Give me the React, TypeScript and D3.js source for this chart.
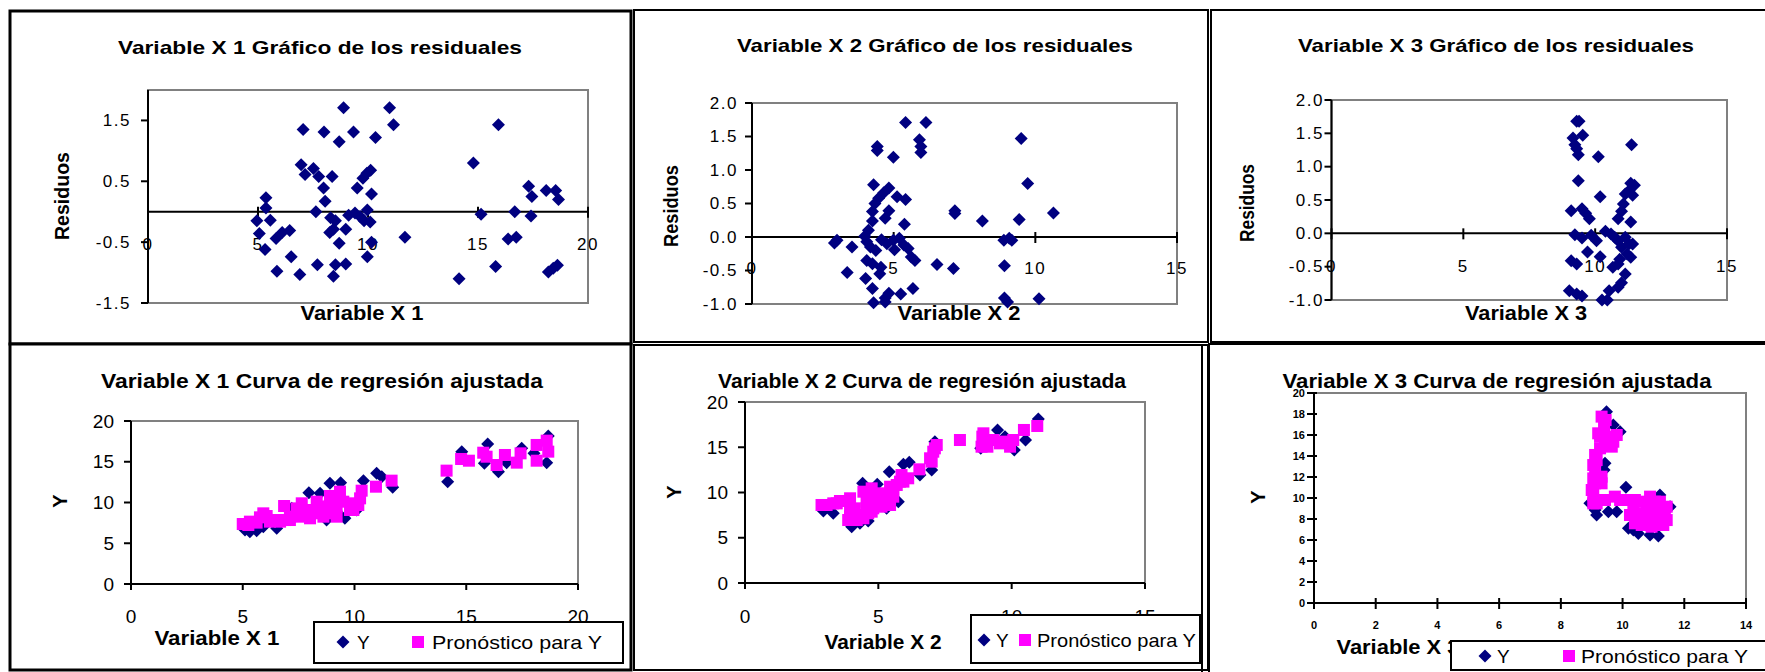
// Externals
import * as d3 from 'd3'
import React, { useRef, useEffect } from 'react'

const FONT = "'Liberation Sans', Arial, Helvetica, sans-serif"
const NAVY = '#000080'
const MAGENTA = '#ff00ff'

// Residual plots: [x value, residual]
const res1 = [
  [8.89, 1.71], [10.98, 1.71], [11.16, 1.43], [7.05, 1.35], [8.0, 1.31], [9.34, 1.31], [8.69, 1.15],
  [10.34, 1.22], [15.93, 1.43], [14.79, 0.8], [6.96, 0.77], [7.14, 0.61], [7.52, 0.71], [7.76, 0.58],
  [8.37, 0.58], [7.98, 0.39], [8.05, 0.17], [7.63, 0.0], [5.36, 0.23], [5.36, 0.06], [4.95, -0.15],
  [5.56, -0.14], [5.06, -0.36], [5.32, -0.62], [5.82, -0.44], [6.1, -0.34], [6.44, -0.31], [5.86, -0.98],
  [6.51, -0.74], [6.9, -1.03], [7.7, -0.87], [8.43, -1.06], [8.52, -0.87], [8.99, -0.86], [8.69, -0.52],
  [8.3, -0.1], [8.52, -0.15], [8.43, -0.29], [8.26, -0.34], [8.99, -0.29], [9.12, -0.06], [9.41, -0.02],
  [9.64, -0.08], [9.82, -0.15], [9.97, 0.03], [10.1, -0.17], [9.51, 0.39], [9.77, 0.55], [9.95, 0.63],
  [10.12, 0.68], [10.16, 0.29], [9.97, -0.74], [10.16, -0.5], [11.68, -0.42], [14.14, -1.1], [15.14, -0.04],
  [15.8, -0.9], [16.37, -0.45], [16.74, -0.42], [16.67, 0.0], [17.3, 0.42], [17.45, 0.25], [17.41, -0.07],
  [18.1, 0.35], [18.53, 0.35], [18.66, 0.2], [18.2, -0.99], [18.42, -0.93], [18.61, -0.88],
]
const res2 = [
  [5.42, 1.71], [6.14, 1.71], [9.5, 1.47], [4.42, 1.35], [4.42, 1.29], [4.99, 1.19], [5.91, 1.45],
  [5.96, 1.35], [5.96, 1.26], [9.73, 0.8], [4.29, 0.78], [4.83, 0.73], [4.65, 0.66], [4.47, 0.58],
  [4.34, 0.5], [4.25, 0.38], [4.83, 0.39], [4.7, 0.28], [5.12, 0.6], [5.42, 0.56], [7.16, 0.39],
  [7.16, 0.35], [8.13, 0.24], [9.43, 0.26], [10.64, 0.36], [5.38, 0.19], [4.25, 0.24], [3.0, -0.05],
  [2.91, -0.09], [3.53, -0.15], [3.36, -0.53], [3.98, 0.01], [4.05, -0.07], [4.11, 0.1], [4.18, -0.15],
  [4.37, -0.2], [4.57, -0.04], [4.76, -0.1], [4.99, -0.05], [5.2, -0.02], [5.36, -0.12], [5.51, -0.17],
  [4.05, -0.35], [4.25, -0.4], [4.55, -0.45], [4.51, -0.55], [4.01, -0.62], [4.25, -0.77], [4.29, -0.98],
  [4.7, -0.97], [4.83, -0.84], [5.25, -0.85], [5.68, -0.77], [5.62, -0.3], [5.75, -0.35], [6.53, -0.41],
  [7.11, -0.47], [8.91, -0.43], [8.89, -0.05], [9.08, -0.02], [9.17, -0.05], [8.91, -0.91], [9.02, -0.97],
  [10.13, -0.92], [5.03, -0.19], [4.7, -0.91],
]
const res3 = [
  [9.3, 1.68], [9.39, 1.68], [9.53, 1.47], [9.16, 1.43], [9.23, 1.33], [9.3, 1.27], [9.36, 1.18],
  [10.12, 1.15], [11.38, 1.33], [9.36, 0.79], [10.19, 0.55], [11.35, 0.75], [11.49, 0.72], [11.28, 0.64],
  [11.14, 0.59], [11.42, 0.57], [11.07, 0.44], [11.0, 0.33], [10.87, 0.22], [11.35, 0.17], [9.09, 0.34],
  [9.5, 0.37], [9.64, 0.3], [9.78, 0.22], [9.23, -0.02], [9.5, -0.07], [9.85, -0.03], [10.05, -0.11],
  [9.71, -0.28], [10.19, -0.35], [10.39, 0.03], [10.6, -0.01], [10.74, -0.06], [10.87, -0.11], [11.14, -0.06],
  [11.28, -0.16], [11.42, -0.16], [11.0, -0.21], [11.21, -0.31], [10.93, -0.39], [11.35, -0.36], [10.67, -0.51],
  [10.87, -0.46], [11.14, -0.61], [11.0, -0.74], [10.87, -0.81], [10.53, -0.86], [10.26, -1.0], [10.46, -1.0],
  [9.09, -0.41], [9.3, -0.46], [9.02, -0.86], [9.3, -0.91], [9.5, -0.94],
]

// Fitted-curve plots: observed Y (navy) and Pronóstico para Y (magenta)
const fit1Y = [
  [5.32, 6.42], [5.1, 6.63], [5.62, 6.54], [6.52, 6.83], [7.96, 11.21], [7.19, 9.28], [8.75, 7.85],
  [8.9, 12.35], [9.38, 12.43], [9.57, 8.06], [10.4, 12.68], [10.99, 13.58], [11.22, 13.17], [11.71, 11.86],
  [8.46, 11.12], [10.1, 9.08], [5.92, 7.03], [9.35, 8.47], [14.17, 12.56], [14.8, 16.24], [15.96, 17.18],
  [15.81, 14.81], [16.44, 13.78], [16.81, 14.89], [17.48, 16.65], [18.6, 14.89], [18.03, 16.03], [18.67, 18.16],
]
const fit1P = [
  [5.0, 7.36], [5.32, 7.65], [5.77, 8.18], [6.07, 8.34], [5.92, 8.67], [6.52, 7.85], [6.89, 7.85],
  [6.85, 9.57], [7.11, 8.26], [7.64, 9.9], [7.71, 8.47], [8.31, 10.1], [8.34, 8.67], [8.9, 10.8],
  [8.9, 8.67], [9.2, 9.49], [9.35, 11.33], [9.87, 9.9], [10.17, 9.69], [9.95, 9.08], [10.32, 11.45],
  [10.96, 11.94], [11.66, 12.68], [5.25, 7.24], [5.62, 7.53], [6.22, 7.65], [6.67, 7.65], [7.11, 7.85],
  [7.41, 9.28], [8.01, 9.08], [8.01, 8.06], [8.61, 8.26], [9.2, 8.26], [9.5, 10.1], [9.8, 9.08],
  [10.25, 10.51], [7.49, 8.26], [8.38, 9.49], [8.83, 9.49], [9.13, 10.51],
  [14.12, 13.91], [14.77, 15.34], [15.12, 15.13], [15.76, 16.11],
  [15.91, 15.62], [16.36, 14.6], [16.73, 15.83], [17.26, 14.89], [17.43, 16.03], [18.15, 17.06],
  [18.15, 15.13], [18.6, 17.59], [18.67, 16.24],
]
const fit2Y = [
  [3.31, 7.7], [2.94, 7.96], [4.0, 6.22], [4.31, 6.59], [4.62, 6.85], [4.41, 11.01], [4.96, 10.9],
  [5.41, 12.3], [5.94, 13.11], [6.16, 13.33], [6.56, 11.93], [7.0, 12.49], [7.12, 15.62], [5.75, 8.99],
  [5.31, 8.25], [4.69, 7.88], [9.47, 16.91], [9.75, 16.17], [10.1, 14.7], [10.52, 15.8], [11.0, 18.12],
  [8.84, 14.88],
]
const fit2P = [
  [2.87, 8.62], [3.31, 8.8], [3.56, 9.06], [3.94, 9.36], [3.94, 7.33], [4.31, 7.51], [4.62, 7.7],
  [4.12, 8.25], [4.44, 10.09], [4.75, 10.46], [5.06, 9.91], [5.44, 10.64], [5.56, 9.54], [5.31, 8.8],
  [4.87, 8.62], [4.56, 8.99], [5.87, 11.93], [5.94, 11.2], [6.54, 12.56], [6.94, 13.78], [7.12, 14.88],
  [3.06, 8.62], [3.44, 8.8], [3.69, 9.06], [3.87, 6.96], [4.19, 6.96], [4.44, 7.15], [4.75, 7.88],
  [3.94, 8.07], [4.69, 9.54], [5.0, 9.17], [5.25, 9.72], [5.56, 10.28], [5.69, 10.83], [5.12, 8.43],
  [4.81, 8.25], [4.56, 8.25], [5.44, 8.62], [5.81, 11.2], [6.12, 11.57], [7.0, 13.41], [7.06, 14.51],
  [7.19, 15.25],
  [8.06, 15.8], [8.9, 16.17], [9.09, 15.06], [9.31, 15.8], [9.75, 15.62], [10.06, 15.8], [10.46, 16.91],
  [10.96, 17.35], [8.87, 15.06], [9.56, 15.43], [9.94, 15.06], [8.94, 16.54],
]
const fit3Y = [
  [9.48, 18.22], [9.43, 13.3], [9.4, 12.67], [10.11, 11.02], [9.16, 8.38], [9.54, 8.7], [9.81, 8.7],
  [10.35, 6.95], [10.51, 6.63], [11.16, 6.38], [10.89, 6.48], [9.7, 16.95], [9.92, 16.32], [8.94, 9.49],
  [11.54, 9.17], [11.21, 10.29], [9.11, 8.86], [10.19, 7.11],
]
const fit3P = [
  [9.45, 17.43], [9.4, 16.79], [9.27, 15.84], [9.54, 15.84], [9.81, 16.0], [9.43, 15.21], [9.65, 14.89],
  [9.16, 13.62], [9.11, 12.6], [9.32, 12.03], [9.11, 11.4], [9.05, 10.29], [9.16, 9.81], [9.75, 10.13],
  [10.19, 9.81], [10.56, 9.65], [10.89, 10.13], [10.67, 8.54], [10.24, 8.38], [10.4, 7.59], [11.0, 8.86],
  [11.32, 8.86], [11.43, 7.9], [11.1, 7.43], [10.78, 7.59], [11.21, 9.65], [11.37, 8.38], [9.16, 9.49],
  [9.32, 17.75], [9.21, 16.16], [9.7, 15.36], [9.27, 14.73], [9.11, 14.1], [9.05, 13.14], [9.05, 11.87],
  [9.32, 11.4], [9.0, 10.76], [9.05, 9.49], [9.43, 9.81], [9.92, 9.81], [10.4, 9.81], [10.35, 9.17],
  [10.78, 9.17], [11.05, 9.65], [11.43, 9.17], [10.46, 8.38], [10.89, 8.22], [11.16, 8.06], [10.62, 7.43],
  [11.32, 7.43], [10.94, 7.27],
]

// Axis ticks
const resTicks1 = [-1.5, -0.5, 0.5, 1.5]
const resTicks23 = [-1, -0.5, 0, 0.5, 1, 1.5, 2]
const yTicksBy5 = [0, 5, 10, 15, 20]
const yTicksBy2 = [0, 2, 4, 6, 8, 10, 12, 14, 16, 18, 20]
const xTicks20 = [0, 5, 10, 15, 20]
const xTicks15 = [0, 5, 10, 15]
const xTicks14 = [0, 2, 4, 6, 8, 10, 12, 14]

const resTitle = (n) => `Variable X ${n} Gráfico de los residuales`
const fitTitle = (n) => `Variable X ${n} Curva de regresión ajustada`
const LEGEND_Y = 'Y'
const LEGEND_P = 'Pronóstico para Y'

const oneDec = (v) => v.toFixed(1)
const plain = (v) => String(v)

const panels: any[] = [
  {
    frame: [10, 11, 631, 344], frameW: 3,
    title: resTitle(1), titleX: 320, titleY: 47, titleW: 404, titleSize: 19,
    plot: [148, 90, 588, 303], xDomain: [0, 20], yDomain: [-1.5, 2],
    xTicks: xTicks20, yTicks: resTicks1, yFmt: oneDec, xAxisAt: 0, xTickMode: 'cross',
    tickSize: 17, tickBold: false, tickSpacing: 1.5, yLabelRight: 131, xLabelOff: 33,
    xTitle: 'Variable X 1', xTitleX: 362, xTitleY: 313, xTitleW: 123,
    yTitle: 'Residuos', yTitleX: 62, yTitleY: 196, yTitleW: 88,
    series: [{ pts: res1, shape: 'diamond', color: NAVY }],
  },
  {
    frame: [634, 10, 1208, 342], frameW: 2,
    title: resTitle(2), titleX: 935, titleY: 45, titleW: 396, titleSize: 19,
    plot: [752, 103, 1177, 304], xDomain: [0, 15], yDomain: [-1, 2],
    xTicks: xTicks15, yTicks: resTicks23, yFmt: oneDec, xAxisAt: 0, xTickMode: 'cross',
    tickSize: 17, tickBold: false, tickSpacing: 1.5, yLabelRight: 738, xLabelOff: 31,
    xTitle: 'Variable X 2', xTitleX: 959, xTitleY: 313, xTitleW: 123,
    yTitle: 'Residuos', yTitleX: 671, yTitleY: 206, yTitleW: 82,
    series: [{ pts: res2, shape: 'diamond', color: NAVY }],
  },
  {
    frame: [1211, 10, 1770, 342], frameW: 2,
    title: resTitle(3), titleX: 1496, titleY: 45, titleW: 396, titleSize: 19,
    plot: [1331.5, 100, 1727, 300], xDomain: [0, 15], yDomain: [-1, 2],
    xTicks: xTicks15, yTicks: resTicks23, yFmt: oneDec, xAxisAt: 0, xTickMode: 'cross',
    tickSize: 17, tickBold: false, tickSpacing: 1.5, yLabelRight: 1324, xLabelOff: 33,
    xTitle: 'Variable X 3', xTitleX: 1526, xTitleY: 313, xTitleW: 122,
    yTitle: 'Residuos', yTitleX: 1247, yTitleY: 203, yTitleW: 78,
    series: [{ pts: res3, shape: 'diamond', color: NAVY }],
  },
  {
    frame: [10, 344, 631, 670], frameW: 3,
    title: fitTitle(1), titleX: 322, titleY: 381, titleW: 442, titleSize: 20,
    plot: [131, 421, 578, 584], xDomain: [0, 20], yDomain: [0, 20],
    xTicks: xTicks20, yTicks: yTicksBy5, yFmt: plain, xAxisAt: 0, xTickMode: 'out',
    tickSize: 19, tickBold: false, tickSpacing: 0, yLabelRight: 114, xLabelOff: 32,
    xTitle: 'Variable X 1', xTitleX: 217, xTitleY: 638, xTitleW: 125,
    yTitle: 'Y', yTitleX: 60, yTitleY: 501, yTitleW: 0,
    series: [{ pts: fit1Y, shape: 'diamond', color: NAVY }, { pts: fit1P, shape: 'square', color: MAGENTA }],
    legend: { box: [314, 622, 623, 663], cy: 642, dX: 343, yX: 357, sX: 418, pX: 432, pW: 170 },
  },
  {
    frame: [634, 345, 1208, 670], frameW: 2,
    title: fitTitle(2), titleX: 922, titleY: 381, titleW: 408, titleSize: 20,
    plot: [745, 402, 1145, 583], xDomain: [0, 15], yDomain: [0, 20],
    xTicks: xTicks15, yTicks: yTicksBy5, yFmt: plain, xAxisAt: 0, xTickMode: 'out',
    tickSize: 19, tickBold: false, tickSpacing: 0, yLabelRight: 728, xLabelOff: 33,
    xTitle: 'Variable X 2', xTitleX: 883, xTitleY: 642, xTitleW: 117,
    yTitle: 'Y', yTitleX: 674, yTitleY: 492, yTitleW: 0,
    series: [{ pts: fit2Y, shape: 'diamond', color: NAVY }, { pts: fit2P, shape: 'square', color: MAGENTA }],
    legend: { box: [971, 615, 1200, 663], cy: 640, dX: 984, yX: 996, sX: 1025, pX: 1037, pW: 159 },
  },
  {
    frame: [1209, 344, 1770, 676], frameW: 2, extraLeft: 1202,
    title: fitTitle(3), titleX: 1497, titleY: 381, titleW: 429, titleSize: 20,
    plot: [1314, 393, 1746, 603], xDomain: [0, 14], yDomain: [0, 20],
    xTicks: xTicks14, yTicks: yTicksBy2, yFmt: plain, xAxisAt: 0, xTickMode: 'cross',
    tickSize: 11, tickBold: true, tickSpacing: 0, yLabelRight: 1305, xLabelOff: 22,
    xTitle: 'Variable X 3', xTitleX: 1398, xTitleY: 647, xTitleW: 123,
    yTitle: 'Y', yTitleX: 1258, yTitleY: 497, yTitleW: 0,
    series: [{ pts: fit3Y, shape: 'diamond', color: NAVY }, { pts: fit3P, shape: 'square', color: MAGENTA }],
    legend: { box: [1451, 641, 1772, 670], cy: 656, dX: 1485, yX: 1497, sX: 1569, pX: 1581, pW: 167 },
  },
]

const DIAMOND = 'M0,-6.5L6.5,0L0,6.5L-6.5,0Z'

const drawMarker = (g, shape, color, cx, cy) => {
  if (shape === 'diamond') {
    g.append('path').attr('d', DIAMOND).attr('fill', color)
      .attr('transform', `translate(${cx},${cy})`)
  } else {
    g.append('rect').attr('x', cx - 6).attr('y', cy - 6)
      .attr('width', 12).attr('height', 12).attr('fill', color)
  }
}

const drawPanel = (svg, p) => {
  const g = svg.append('g')
  const [fx0, fy0, fx1, fy1] = p.frame
  g.append('rect').attr('x', fx0).attr('y', fy0).attr('width', fx1 - fx0).attr('height', fy1 - fy0)
    .attr('fill', 'white').attr('stroke', 'black').attr('stroke-width', p.frameW)
  if (p.extraLeft) {
    g.append('line').attr('x1', p.extraLeft).attr('x2', p.extraLeft).attr('y1', fy0).attr('y2', fy1)
      .attr('stroke', 'black').attr('stroke-width', 2)
  }

  const [px0, py0, px1, py1] = p.plot
  const x = d3.scaleLinear().domain(p.xDomain).range([px0, px1])
  const y = d3.scaleLinear().domain(p.yDomain).range([py1, py0])

  // plot area
  g.append('rect').attr('x', px0).attr('y', py0).attr('width', px1 - px0).attr('height', py1 - py0)
    .attr('fill', 'white').attr('stroke', '#808080').attr('stroke-width', 2)

  // title
  g.append('text').attr('x', p.titleX).attr('y', p.titleY)
    .attr('text-anchor', 'middle').attr('dominant-baseline', 'central')
    .attr('font-weight', 'bold').style('font-size', `${p.titleSize}px`)
    .attr('textLength', p.titleW).attr('lengthAdjust', 'spacingAndGlyphs')
    .text(p.title)

  // y axis
  g.append('line').attr('x1', px0).attr('x2', px0).attr('y1', py0).attr('y2', py1)
    .attr('stroke', 'black').attr('stroke-width', 2)
  const yCross = p.xTickMode === 'cross' && p.tickBold
  p.yTicks.forEach(t => {
    g.append('line').attr('x1', px0 - 7).attr('x2', yCross ? px0 + 3 : px0)
      .attr('y1', y(t)).attr('y2', y(t)).attr('stroke', 'black').attr('stroke-width', 2)
    g.append('text').attr('x', p.yLabelRight).attr('y', y(t))
      .attr('text-anchor', 'end').attr('dominant-baseline', 'central')
      .attr('font-weight', p.tickBold ? 'bold' : 'normal')
      .style('font-size', `${p.tickSize}px`).style('letter-spacing', `${p.tickSpacing}px`)
      .text(p.yFmt(t))
  })

  // x axis
  const ax = y(p.xAxisAt)
  g.append('line').attr('x1', px0).attr('x2', px1).attr('y1', ax).attr('y2', ax)
    .attr('stroke', 'black').attr('stroke-width', 2)
  p.xTicks.forEach(t => {
    g.append('line').attr('x1', x(t)).attr('x2', x(t))
      .attr('y1', p.xTickMode === 'cross' ? ax - 5 : ax).attr('y2', ax + 6)
      .attr('stroke', 'black').attr('stroke-width', 2)
    g.append('text').attr('x', x(t)).attr('y', ax + p.xLabelOff)
      .attr('text-anchor', 'middle').attr('dominant-baseline', 'central')
      .attr('font-weight', p.tickBold ? 'bold' : 'normal')
      .style('font-size', `${p.tickSize}px`).style('letter-spacing', `${p.tickSpacing}px`)
      .text(String(t))
  })

  // axis titles
  g.append('text').attr('x', p.xTitleX).attr('y', p.xTitleY)
    .attr('text-anchor', 'middle').attr('dominant-baseline', 'central')
    .attr('font-weight', 'bold').style('font-size', '20px')
    .attr('textLength', p.xTitleW).attr('lengthAdjust', 'spacingAndGlyphs')
    .text(p.xTitle)
  const yt = g.append('text').attr('x', p.yTitleX).attr('y', p.yTitleY)
    .attr('text-anchor', 'middle').attr('dominant-baseline', 'central')
    .attr('font-weight', 'bold').style('font-size', '20px')
    .attr('transform', `rotate(-90,${p.yTitleX},${p.yTitleY})`)
    .text(p.yTitle)
  if (p.yTitleW) yt.attr('textLength', p.yTitleW).attr('lengthAdjust', 'spacingAndGlyphs')

  // points
  p.series.forEach(s => {
    const sg = g.append('g')
    s.pts.forEach(d => drawMarker(sg, s.shape, s.color, x(d[0]), y(d[1])))
  })

  // legend
  if (p.legend) {
    const L = p.legend
    const [lx0, ly0, lx1, ly1] = L.box
    g.append('rect').attr('x', lx0).attr('y', ly0).attr('width', lx1 - lx0).attr('height', ly1 - ly0)
      .attr('fill', 'white').attr('stroke', 'black').attr('stroke-width', 2)
    drawMarker(g, 'diamond', NAVY, L.dX, L.cy)
    drawMarker(g, 'square', MAGENTA, L.sX, L.cy)
    g.append('text').attr('x', L.yX).attr('y', L.cy).attr('dominant-baseline', 'central')
      .style('font-size', '19px').text(LEGEND_Y)
    g.append('text').attr('x', L.pX).attr('y', L.cy).attr('dominant-baseline', 'central')
      .style('font-size', '19px')
      .attr('textLength', L.pW).attr('lengthAdjust', 'spacingAndGlyphs')
      .text(LEGEND_P)
  }
}

const App = () => {
  const ref = useRef<SVGSVGElement | null>(null)

  useEffect(() => {
    const svg = d3.select(ref.current)
    svg.selectAll('*').remove()
    svg.append('rect').attr('width', 1765).attr('height', 672).attr('fill', 'white')
    panels.forEach(p => drawPanel(svg, p))
  }, [])

  return (
    <svg
      ref={ ref }
      width={ 1765 }
      height={ 672 }
      style={ { position: 'absolute', left: 0, top: 0, fontFamily: FONT } }
    />
  )
}

export default App
